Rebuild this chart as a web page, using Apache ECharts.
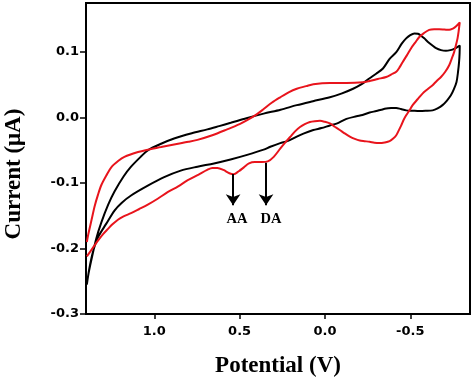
<!DOCTYPE html>
<html>
<head>
<meta charset="utf-8">
<script src="https://cdn.jsdelivr.net/npm/echarts@6/dist/echarts.min.js"></script>
<style>html,body{margin:0;padding:0;background:#fff;}#c{width:474px;height:379px;}</style>
</head>
<body>
<div id="c"></div>
<script>
// Potential (V) / Current (uA) points, traced around each closed loop
var blackCurve = [
[1.395,-0.255],[1.385,-0.238],[1.369,-0.218],[1.34,-0.185],[1.31,-0.16],[1.27,-0.133],[1.233,-0.113],[1.18,-0.09],[1.136,-0.075],[1.08,-0.06],[1.038,-0.05],[0.96,-0.04],[0.884,-0.032],[0.78,-0.024],[0.689,-0.018],[0.62,-0.013],[0.552,-0.008],[0.46,-0.001],[0.359,0.006],[0.26,0.012],[0.165,0.019],[0.07,0.025],[-0.029,0.031],[-0.1,0.037],[-0.165,0.044],[-0.215,0.051],[-0.262,0.06],[-0.30,0.067],[-0.34,0.075],[-0.38,0.090],[-0.418,0.100],[-0.45,0.113],[-0.476,0.121],[-0.50,0.126],[-0.524,0.1286],[-0.545,0.128],[-0.563,0.125],[-0.582,0.121],[-0.602,0.116],[-0.63,0.110],[-0.651,0.106],[-0.68,0.103],[-0.709,0.102],[-0.735,0.103],[-0.757,0.105],[-0.79,0.110],
[-0.789,0.098],[-0.786,0.085],[-0.78,0.07],[-0.771,0.0545],[-0.755,0.043],[-0.738,0.034],[-0.715,0.026],[-0.689,0.019],[-0.66,0.014],[-0.631,0.011],[-0.59,0.0103],[-0.553,0.010],[-0.514,0.0105],[-0.476,0.011],[-0.445,0.013],[-0.418,0.0147],[-0.39,0.0145],[-0.359,0.0138],[-0.33,0.012],[-0.301,0.010],[-0.262,0.0077],[-0.22,0.004],[-0.185,0.002],[-0.126,-0.002],[-0.068,-0.0092],[-0.029,-0.012],[0.02,-0.016],[0.068,-0.019],[0.126,-0.0245],[0.165,-0.029],[0.22,-0.036],[0.262,-0.039],[0.32,-0.0445],[0.359,-0.049],[0.456,-0.057],[0.553,-0.064],[0.65,-0.07],[0.747,-0.075],[0.845,-0.081],[0.942,-0.091],[1.038,-0.104],[1.136,-0.119],[1.19,-0.13],[1.233,-0.142],[1.281,-0.162],[1.33,-0.183],[1.359,-0.205],[1.38,-0.23],[1.395,-0.255]
];
var redCurve = [
[1.395,-0.19],[1.388,-0.18],[1.369,-0.158],[1.349,-0.135],[1.33,-0.118],[1.31,-0.103],[1.28,-0.088],[1.252,-0.076],[1.21,-0.066],[1.175,-0.06],[1.1,-0.053],[1.038,-0.049],[0.96,-0.045],[0.884,-0.041],[0.8,-0.037],[0.747,-0.034],[0.66,-0.027],[0.573,-0.018],[0.5,-0.01],[0.456,-0.004],[0.40,0.005],[0.359,0.013],[0.31,0.023],[0.262,0.031],[0.21,0.039],[0.165,0.044],[0.11,0.048],[0.068,0.051],[-0.029,0.053],[-0.126,0.053],[-0.223,0.054],[-0.262,0.056],[-0.31,0.059],[-0.359,0.062],[-0.39,0.066],[-0.418,0.070],[-0.438,0.077],[-0.456,0.085],[-0.48,0.095],[-0.505,0.106],[-0.53,0.115],[-0.553,0.123],[-0.58,0.129],[-0.611,0.134],[-0.640,0.135],[-0.670,0.135],[-0.70,0.1345],[-0.728,0.134],[-0.75,0.136],[-0.767,0.139],[-0.790,0.1455],
[-0.784,0.133],[-0.777,0.121],[-0.767,0.110],[-0.757,0.100],[-0.743,0.090],[-0.728,0.080],[-0.705,0.070],[-0.68,0.062],[-0.655,0.056],[-0.631,0.0495],[-0.60,0.043],[-0.573,0.037],[-0.543,0.028],[-0.514,0.019],[-0.495,0.011],[-0.476,0.0035],[-0.46,-0.004],[-0.447,-0.012],[-0.432,-0.020],[-0.418,-0.027],[-0.40,-0.032],[-0.379,-0.036],[-0.35,-0.038],[-0.320,-0.039],[-0.29,-0.0385],[-0.262,-0.037],[-0.232,-0.036],[-0.204,-0.035],[-0.175,-0.0325],[-0.146,-0.029],[-0.115,-0.024],[-0.087,-0.019],[-0.058,-0.014],[-0.029,-0.009],[0.0,-0.0065],[0.029,-0.005],[0.06,-0.0055],[0.088,-0.0067],[0.118,-0.010],[0.146,-0.0144],[0.175,-0.021],[0.204,-0.0297],[0.232,-0.038],[0.262,-0.0475],[0.30,-0.060],[0.335,-0.067],[0.37,-0.068],[0.41,-0.068],[0.445,-0.070],[0.475,-0.076],[0.505,-0.082],[0.535,-0.0865],[0.56,-0.085],[0.595,-0.080],[0.63,-0.077],[0.66,-0.077],[0.69,-0.080],[0.74,-0.087],[0.806,-0.096],[0.86,-0.105],[0.922,-0.114],[0.98,-0.124],[1.038,-0.133],[1.09,-0.14],[1.136,-0.146],[1.18,-0.151],[1.213,-0.156],[1.245,-0.163],[1.271,-0.170],[1.30,-0.178],[1.33,-0.188],[1.36,-0.199],[1.395,-0.212]
];
var xTicks = [1.0, 0.5, 0.0, -0.5];
var yTicks = [-0.3, -0.2, -0.1, 0.0, 0.1];
var peakNames = ['AA', 'DA'];
var peakPotentials = [0.538, 0.345];
var arrowFrom = [-0.086, -0.069];
var arrowTo = [-0.134, -0.134];
var labelPos = [[0.515, -0.156], [0.316, -0.156]];

function fmt(v){ if (Math.abs(v) < 1e-9) v = 0; return v.toFixed(1); }

var chart = echarts.init(document.getElementById('c'), null, {renderer: 'canvas'});
var markLines = peakNames.map(function(n, i){
  return [{coord: [peakPotentials[i], arrowFrom[i]]}, {coord: [peakPotentials[i], arrowTo[i]]}];
});
var labelData = peakNames.map(function(n, i){ return {name: n, value: labelPos[i]}; });
var tickFont = 'DejaVu Sans';

chart.setOption({
  animation: false,
  backgroundColor: '#fff',
  grid: {left: 86, right: 4, top: 3, bottom: 65, show: true, borderColor: '#000', borderWidth: 2, containLabel: false, outerBoundsMode: 'none'},
  xAxis: {
    type: 'value', inverse: true, min: -0.85, max: 1.4,
    axisLine: {show: true, onZero: false, lineStyle: {color: '#000', width: 2}},
    axisTick: {show: true, inside: false, length: 5, lineStyle: {color: '#000', width: 1.5}, customValues: xTicks},
    axisLabel: {margin: 11, color: '#000', fontFamily: tickFont, fontWeight: 'bold', fontSize: 13, customValues: xTicks, formatter: fmt},
    splitLine: {show: false},
    name: 'Potential (V)', nameLocation: 'middle', nameGap: 41,
    nameTextStyle: {color: '#000', fontFamily: 'Liberation Serif, Times New Roman, serif', fontWeight: 'bold', fontSize: 23}
  },
  yAxis: {
    type: 'value', min: -0.3, max: 0.175, interval: 0.1,
    axisLine: {show: true, onZero: false, lineStyle: {color: '#000', width: 2}},
    axisTick: {show: true, inside: false, length: 6, lineStyle: {color: '#000', width: 1.5}, customValues: yTicks},
    axisLabel: {margin: 7, color: '#000', fontFamily: tickFont, fontWeight: 'bold', fontSize: 13, customValues: yTicks, formatter: fmt},
    splitLine: {show: false}
  },
  graphic: [{
    type: 'text', x: 14, y: 174, rotation: Math.PI / 2,
    style: {text: 'Current (\u03bcA)', fill: '#000', font: 'bold 23px "Liberation Serif", "Times New Roman", serif', textAlign: 'center', textVerticalAlign: 'middle'}
  }],
  series: [
    {type: 'line', name: 'black', data: blackCurve, smooth: 0.3, symbol: 'none', lineStyle: {color: '#000', width: 2}, z: 3},
    {type: 'line', name: 'red', data: redCurve, smooth: 0.3, symbol: 'none', lineStyle: {color: '#e8141c', width: 2}, z: 4},
    {type: 'scatter', name: 'peaks', data: labelData, symbolSize: 0, silent: true, z: 5,
      itemStyle: {opacity: 1, color: '#000'},
      label: {show: true, position: 'inside', formatter: '{b}', color: '#000', opacity: 1, textBorderWidth: 0, fontFamily: 'Liberation Serif, Times New Roman, serif', fontWeight: 'bold', fontSize: 14.5},
      markLine: {silent: true, symbol: ['none', 'arrow'], symbolSize: [11, 11], label: {show: false},
        lineStyle: {color: '#000', width: 2, type: 'solid'}, data: markLines, animation: false}
    }
  ]
});
</script>
</body>
</html>
